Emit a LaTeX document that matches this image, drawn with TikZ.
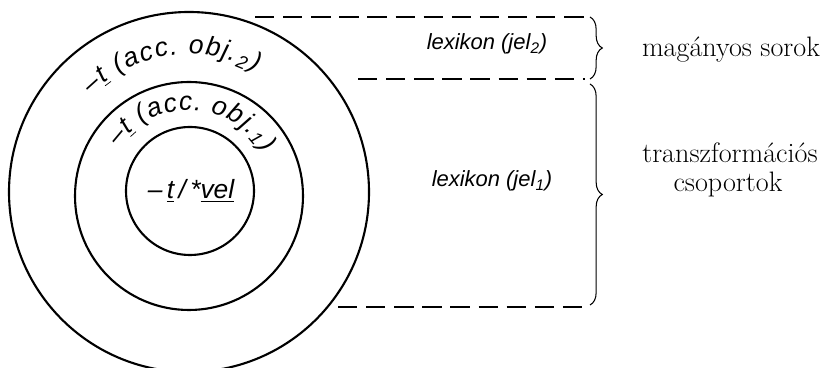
\documentclass[tikz,border=0pt]{standalone}
\usepackage{fontspec}
\newfontfamily\labelfont{Liberation Sans}
\usetikzlibrary{decorations.text, decorations.pathreplacing, positioning}

\begin{document}
\begin{tikzpicture}[x=0.02cm, y=0.02cm,
    ring/.style={line width=1.2pt},
    gap/.style={line width=0.8pt, dash pattern=on 11pt off 5pt},
    curly/.style={line width=0.6pt, decorate, decoration={brace, amplitude=7pt}},
    lex/.style={font=\labelfont\itshape\fontsize{12.5}{15}\selectfont},
    note/.style={font=\fontsize{16}{19}\selectfont}]
    \useasboundingbox (0,0) rectangle (833,368);

    % Centres of the rings
    \coordinate (co) at (189,176);
    \coordinate (cm) at (189,172);
    \coordinate (ci) at (190,177);

    % Rings
    \draw[ring] (co) circle[radius=180];
    \draw[ring] (cm) circle[radius=114];
    \draw[ring] (ci) circle[radius=64];

    % Labels along the rings
    \path[decorate, decoration={text along path, text align={fit to path},
        text={|\labelfont\itshape\fontsize{15}{18}\selectfont|–{\underline{t}} (acc. obj.{\textsubscript{2}})}}]
        ([shift={(135:138)}]co) arc[start angle=135, end angle=61, radius=138];
    \path[decorate, decoration={text along path, text align={fit to path},
        text={|\labelfont\itshape\fontsize{15}{18}\selectfont|–{\underline{t}} (acc. obj.{\textsubscript{1}})}}]
        ([shift={(145:86)}]cm) arc[start angle=145, end angle=30, radius=86];
    \node[lex, font=\labelfont\itshape\fontsize{15}{18}\selectfont, anchor=base] (core) at (191,169)
        {–\,\underline{t}\,/\,*\underline{vel}};

    % Dashed bounds of the two lexicons
    \coordinate (t0) at (255,351);
    \coordinate (t1) at (585,351);
    \coordinate (m0) at (358,289);
    \coordinate (m1) at (585,289);
    \coordinate (b0) at (338,61);
    \coordinate (b1) at (585,61);
    \draw[gap] (t0) -- (t1);
    \draw[gap] (m0) -- (m1);
    \draw[gap] (b0) -- (b1);

    \node[lex, anchor=base] (jel2) at (487,318) {lexikon (jel\textsubscript{2})};
    \node[lex, anchor=base] (jel1) at (492,181) {lexikon (jel\textsubscript{1})};

    % Braces and their names
    \coordinate (k1a) at (590,351);
    \coordinate (k1b) at (590,289);
    \coordinate (k2a) at (590,284);
    \coordinate (k2b) at (590,63);
    \draw[curly] (k1a) -- (k1b);
    \draw[curly] (k2a) -- (k2b);

    \node[note, anchor=base] (sorok) at (731,311) {magányos sorok};
    \node[note, anchor=base] (trans) at (730,205) {transzformációs};
    \node[note, anchor=base] (csop) at (728,176) {csoportok};
\end{tikzpicture}
\end{document}
